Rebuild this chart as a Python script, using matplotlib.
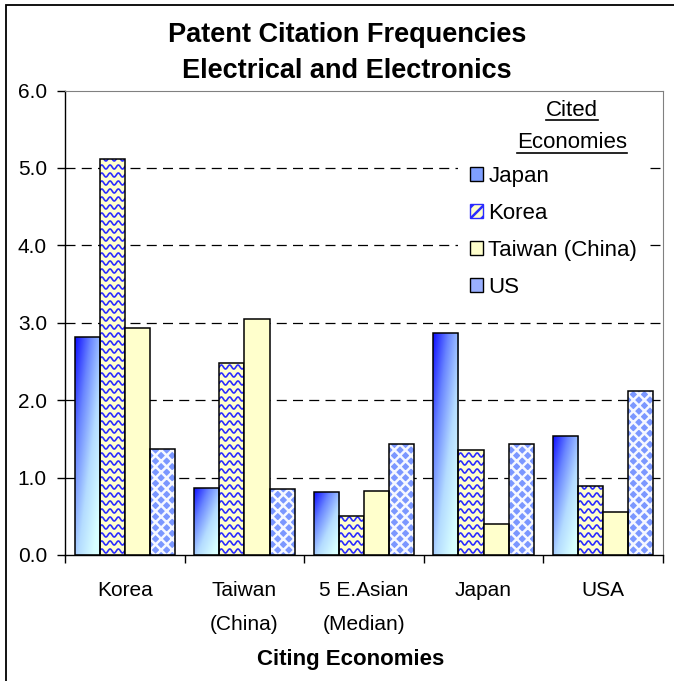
import numpy as np
import matplotlib
matplotlib.use("Agg")
import matplotlib.pyplot as plt
from matplotlib.patches import Rectangle, Patch
from matplotlib.colors import LinearSegmentedColormap

plt.rcParams['font.family'] = ['Liberation Sans', 'DejaVu Sans']
plt.rcParams['hatch.linewidth'] = 1.8

# ---- data ----
categories = ["Korea", "Taiwan\n(China)", "5 E.Asian\n(Median)", "Japan", "USA"]
series_names = ["Japan", "Korea", "Taiwan (China)", "US"]
japan_vals = [2.81, 0.87, 0.81, 2.87, 1.54]
korea_vals = [5.11, 2.48, 0.50, 1.35, 0.89]
taiwan_vals = [2.93, 3.05, 0.83, 0.405, 0.55]
us_vals = [1.375, 0.85, 1.44, 1.44, 2.12]
yticks = [0.0, 1.0, 2.0, 3.0, 4.0, 5.0, 6.0]
title = "Patent Citation Frequencies\nElectrical and Electronics"
xlabel = "Citing Economies"
legend_title = ["Cited", "Economies"]

W, H = 674, 681
fig = plt.figure(figsize=(W / 100, H / 100), dpi=100)
ax = fig.add_axes([65 / W, 1 - 555 / H, (663 - 65) / W, (555 - 90.5) / H])

x = np.arange(len(categories))
bw = 0.21
offsets = np.array([-1.5, -0.5, 0.5, 1.5]) * bw
edge_kw = dict(edgecolor="black", linewidth=1.1, zorder=3)

# Japan: gradient bars (top-left deep blue -> bottom-right pale cyan)
grad_cmap = LinearSegmentedColormap.from_list("g", ["#1010ff", "#6a86ff", "#b4dcff", "#d8ffff"])
bars_j = ax.bar(x + offsets[0], japan_vals, bw, facecolor="none", **edge_kw)
gy, gx = np.mgrid[0:1:100j, 0:1:40j]
for b in bars_j:
    x0, y0 = b.get_x(), b.get_y()
    w, h = b.get_width(), b.get_height()
    t = np.clip(0.55 * gx + 0.6 * gy, 0, 1)
    im = ax.imshow(t, cmap=grad_cmap, vmin=0, vmax=1, origin="upper",
                   extent=[x0, x0 + w, y0, y0 + h], aspect="auto", zorder=2,
                   interpolation="bilinear")
    im.set_clip_path(b)

# Korea: light yellow with blue waves
ax.bar(x + offsets[1], korea_vals, bw, facecolor="#ffffcc", linewidth=0, zorder=2)
bars_k = ax.bar(x + offsets[1], korea_vals, bw, facecolor="none", **edge_kw)
ypx = 6.0 / 464.5
xpx = 1.0 / 119.6
row_sp = 8.0 * ypx
amp = 2.0 * ypx
lam = 8.3 * xpx
for b in bars_k:
    x0, w, h = b.get_x(), b.get_width(), b.get_height()
    xs = np.linspace(x0, x0 + w, 80)
    yb = row_sp * 0.5
    while yb < h + row_sp:
        ys = yb + amp * np.sin(2 * np.pi * (xs - x0) / lam)
        ln, = ax.plot(xs, ys, color="#2b2bff", lw=1.2, zorder=2.5)
        ln.set_clip_path(b)
        yb += row_sp

# Taiwan: plain light yellow
bars_t = ax.bar(x + offsets[2], taiwan_vals, bw, facecolor="#ffffcc", **edge_kw)

# US: blue lattice pattern
ax.bar(x + offsets[3], us_vals, bw, facecolor="#7b97ff", edgecolor="#f6f8ff",
       hatch="xxx", linewidth=0, zorder=2.5)
bars_u = ax.bar(x + offsets[3], us_vals, bw, facecolor="none", **edge_kw)

# axes styling
ax.set_xlim(-0.5, len(categories) - 0.5)
ax.set_ylim(0, 6)
ax.set_yticks(yticks)
ax.set_yticklabels([f"{v:.1f}" for v in yticks], fontsize=15)
ax.set_xticks(np.arange(len(categories) + 1) - 0.5)
ax.set_xticklabels([])
ax.set_xticks(x, minor=True)
ax.set_xticklabels(categories, minor=True, fontsize=15, linespacing=2.0)
ax.tick_params(axis="x", which="minor", length=0, pad=19)
ax.tick_params(axis="x", which="major", length=6, width=1.0, direction="out")
ax.tick_params(axis="y", length=6, width=1.0, direction="out", pad=7)
for ytk in yticks[1:-1]:
    ax.axhline(ytk, color="black", lw=0.9, ls=(0, (8, 5)), zorder=1)
ax.spines["left"].set_color("black")
ax.spines["bottom"].set_color("black")
ax.spines["left"].set_linewidth(1.0)
ax.spines["bottom"].set_linewidth(1.0)
ax.spines["top"].set_color("#808080")
ax.spines["right"].set_color("#808080")
ax.spines["bottom"].set_zorder(5)

fig.text(351 / W, 1 - 659 / H, xlabel, ha="center", va="center",
         fontsize=16, fontweight="bold")

fig.text(347 / W, 1 - 53.5 / H, title, ha="center", va="center",
         fontsize=19.5, fontweight="bold", linespacing=1.5)

# legend background (hides gridlines behind the legend)
ax.add_artist(Rectangle((458 / W, 1 - 300 / H), (645 - 458) / W, (300 - 96) / H,
                        transform=fig.transFigure, facecolor="white", edgecolor="none",
                        zorder=1.5))

h_j = Patch(facecolor="#7f9fff", edgecolor="black", lw=1.0)
h_k = Patch(facecolor="#ffffcc", edgecolor="#2b2bff", hatch="///", lw=1.0)
h_t = Patch(facecolor="#ffffcc", edgecolor="black", lw=1.0)
h_u = Patch(facecolor="#9ab0ff", edgecolor="black", lw=1.0)
leg = ax.legend([h_j, h_k, h_t, h_u], series_names, loc="upper left",
                bbox_to_anchor=(454 / W, 1 - 150 / H), bbox_transform=fig.transFigure,
                frameon=False, fontsize=16, handlelength=0.6, handleheight=0.6,
                handletextpad=0.25, labelspacing=0.72, borderpad=0.2)
leg.set_zorder(6)
leg_tx = 572 / W
title_texts = []
for txt, yy in zip(legend_title, [110, 143]):
    title_texts.append(fig.text(leg_tx, 1 - yy / H, txt, ha="center", va="center", fontsize=16))
fig.canvas.draw()
r = fig.canvas.get_renderer()
for t in title_texts:
    bb = t.get_window_extent(r)
    fig.add_artist(plt.Line2D([bb.x0 / W, bb.x1 / W], [(bb.y0 + 1) / H, (bb.y0 + 1) / H],
                              color="black", lw=1.2, transform=fig.transFigure))

# figure outer border (left and top)
fig.add_artist(Rectangle((6 / W, -0.1), 1.2, 1 - 5 / H + 0.1, transform=fig.transFigure,
                         fill=False, edgecolor="black", lw=1.3, clip_on=False))

fig.savefig("out.png", dpi=100)
